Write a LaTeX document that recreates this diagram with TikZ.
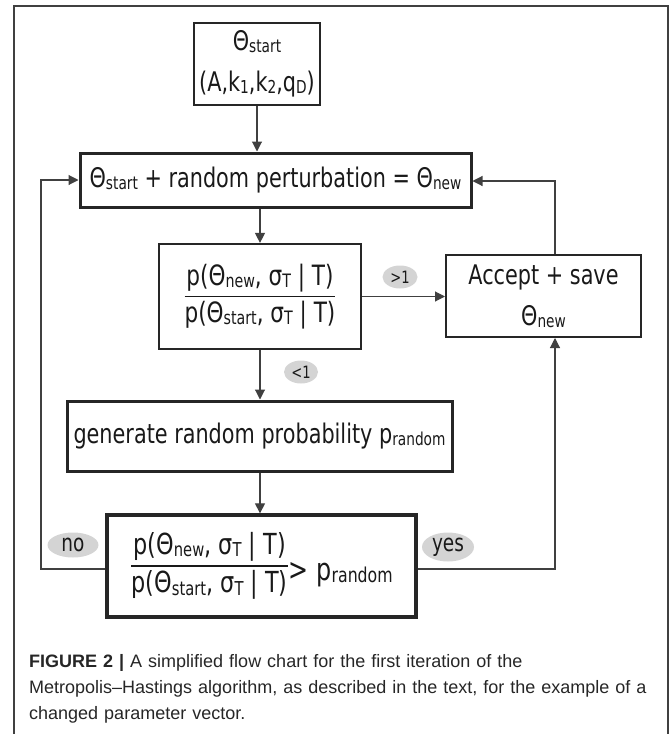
\documentclass[tikz,border=0pt]{standalone}
\usepackage{amsmath}
\usepackage{graphicx}
\usepackage{fontspec}
\usetikzlibrary{arrows.meta,shapes.geometric}
\newfontfamily\chartfont{DejaVu Sans}[FakeStretch=0.77]
\newfontfamily\captionfont{Liberation Sans}
\newcommand{\sub}[1]{\raisebox{-0.08em}{\scalebox{0.66}{#1}}}
\newcommand{\likeratio}{\genfrac{}{}{1.3pt}{0}{\mbox{p(Θ\sub{new}, σ\sub{T} | T)}}{\mbox{p(Θ\sub{start}, σ\sub{T} | T)}}}
\tikzset{
    chart/.style={font=\chartfont\fontsize{27}{41}\selectfont, text=black!90},
    thinbox/.style={draw=black!85, line width=1.6pt, inner sep=0pt, align=center},
    thickbox/.style={thinbox, line width=3pt},
    flow/.style={draw=black!75, line width=1.1pt, -{Triangle[length=10pt,width=10pt]}},
    tag/.style={ellipse, fill=black!17, inner sep=0pt}
}
\begin{document}
\begin{tikzpicture}[x=1pt,y=-1pt,chart]
    \useasboundingbox (0,0) rectangle (669,734);
    % frame
    \draw[black!75, line width=1.5pt] (14,740) -- (14,6) -- (668,6) -- (668,740);
    % boxes
    \node[thinbox, minimum width=126pt, minimum height=82pt] (start) at (257,64) {Θ\sub{start}\\(A,k\sub{1},k\sub{2},q\sub{D})};
    \node[thickbox, minimum width=391pt, minimum height=54pt] (perturb) at (275.5,180) {Θ\sub{start} + random perturbation = Θ\sub{new}};
    \node[thinbox, line width=2.2pt, minimum width=202pt, minimum height=105pt, font=\chartfont\fontsize{28}{41}\selectfont] (ratio) at (260,296.5) {$\likeratio$};
    \node[thinbox, line width=2pt, minimum width=195pt, minimum height=82pt] (accept) at (543.5,296) {Accept + save\\Θ\sub{new}};
    \node[thickbox, minimum width=385pt, minimum height=70pt] (genrand) at (259.5,436) {generate random probability p\sub{random}};
    \node[thickbox, line width=3.3pt, minimum width=309pt, minimum height=102pt, font=\chartfont\fontsize{29}{41}\selectfont] (test) at (261.5,566) {$\likeratio$\raisebox{-8pt}{\fontsize{31}{31}\selectfont > p\sub{random}}};
    % turning points of the loops
    \coordinate (noturn) at (41,569);
    \coordinate (yesturn) at (555,569);
    \coordinate (backturn) at (555,181);
    % connectors
    \draw[flow] (start.south) -- (start.south |- perturb.north);
    \draw[flow] (ratio.north |- perturb.south) -- (ratio.north);
    \draw[flow] (ratio.east) -- (ratio.east -| accept.west);
    \draw[flow] (ratio.south) -- (genrand.north -| ratio.south);
    \draw[flow] (genrand.south -| ratio.south) -- (test.north -| ratio.south);
    \draw[flow] (test.west |- noturn) -- (noturn) |- (perturb.west);
    \draw[flow] (test.east |- yesturn) -- (yesturn) -- (yesturn |- accept.south);
    \draw[flow] (backturn |- accept.north) -- (backturn) -- (perturb.east |- backturn);
    % labels
    \node[tag, minimum width=35pt, minimum height=23pt, font=\chartfont\fontsize{17}{17}\selectfont] (gtone) at (400,277) {>1};
    \node[tag, minimum width=34pt, minimum height=23pt, font=\chartfont\fontsize{17}{17}\selectfont] (ltone) at (301,372) {<1};
    \node[tag, minimum width=51pt, minimum height=25pt, font=\chartfont\fontsize{24}{24}\selectfont] (nolabel) at (73,545) {no};
    \node[tag, minimum width=52pt, minimum height=29pt, font=\chartfont\fontsize{24}{24}\selectfont] (yeslabel) at (448,547) {yes};
    % caption
    \node[anchor=base west, text width=640pt, align=left, inner sep=0pt, font=\captionfont\fontsize{18}{26}\selectfont, text=black!85] (caption) at (29,667) {\textbf{FIGURE 2 |} A simplified flow chart for the first iteration of the\\Metropolis–Hastings algorithm, as described in the text, for the example of a\\changed parameter vector.};
\end{tikzpicture}
\end{document}
